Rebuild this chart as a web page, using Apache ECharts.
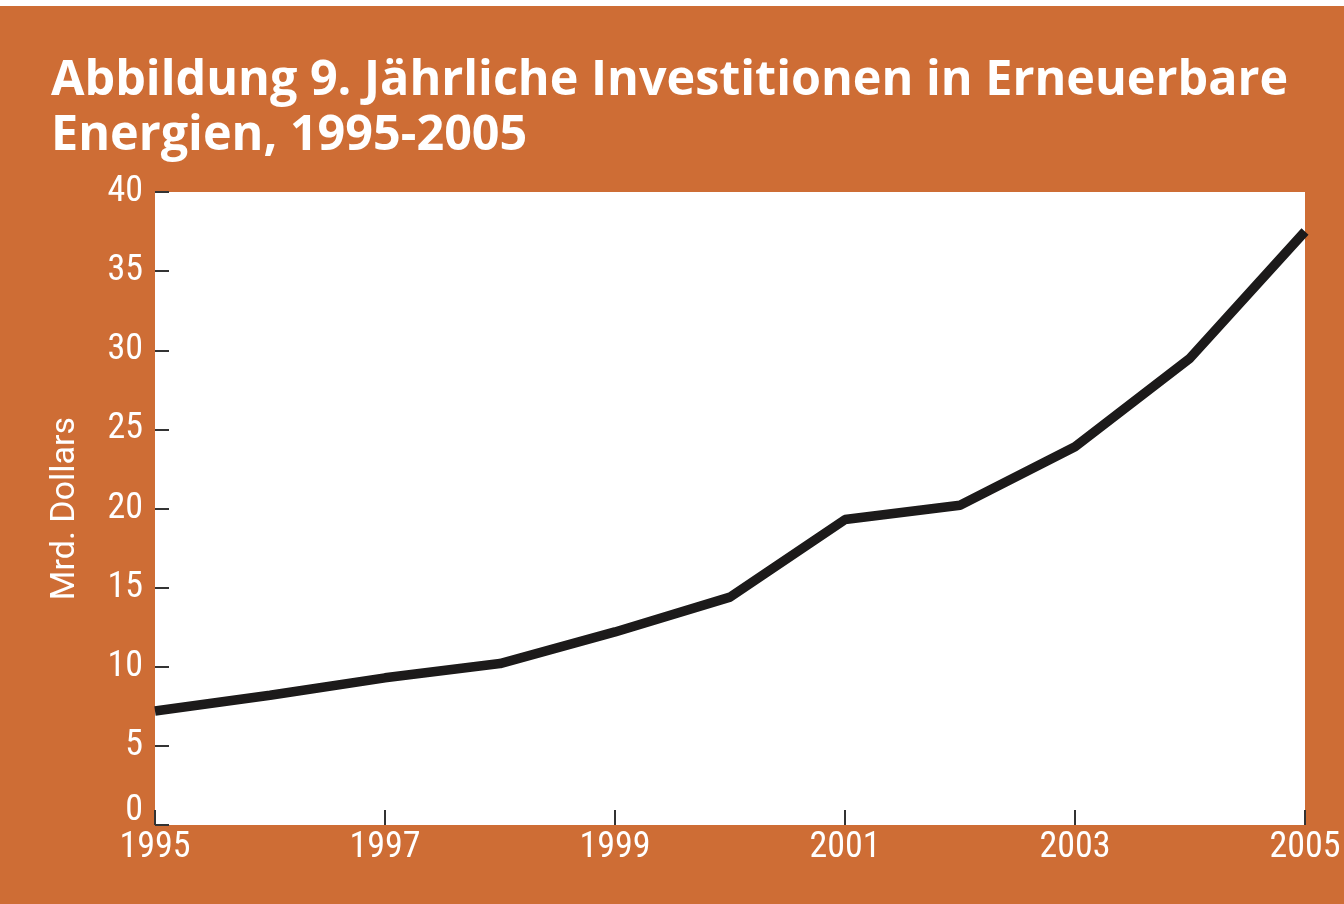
<!DOCTYPE html>
<html>
<head>
<meta charset="utf-8">
<script src="https://cdn.jsdelivr.net/npm/echarts@6/dist/echarts.min.js"></script>
<style>
  html, body { margin: 0; padding: 0; background: #fff; }
  #main { width: 1344px; height: 904px; }
</style>
</head>
<body>
<div id="main"></div>
<script>
// Jahre und Investitionen (Mrd. Dollars)
var years = ['1995', '1996', '1997', '1998', '1999', '2000', '2001', '2002', '2003', '2004', '2005'];
var invest = [7.2, 8.2, 9.3, 10.2, 12.2, 14.4, 19.3, 20.2, 23.9, 29.5, 37.5];
var yTicks = [0, 5, 10, 15, 20, 25, 30, 35, 40];

var orange = '#CE6D35';
var narrow = 'Roboto, sans-serif';
// font-stretch goes in the weight slot of the canvas font string
var narrowWeight = 'condensed';

var chart = echarts.init(document.getElementById('main'));
chart.setOption({
  backgroundColor: orange,
  animation: false,
  title: {
    text: 'Abbildung 9. Jährliche Investitionen in Erneuerbare\nEnergien, 1995-2005',
    left: 46,
    top: 49,
    textStyle: {
      color: '#fff',
      fontFamily: "'Open Sans', sans-serif",
      fontWeight: 'bold',
      fontSize: 48.5,
      lineHeight: 55
    }
  },
  graphic: [
    { type: 'rect', shape: { x: 0, y: 0, width: 1344, height: 6 }, style: { fill: '#fff' } }
  ],
  grid: {
    left: 155, right: 39, top: 192, bottom: 79,
    show: true, backgroundColor: '#fff', borderWidth: 0
  },
  xAxis: {
    type: 'category',
    data: years,
    boundaryGap: false,
    axisLine: { show: false },
    axisTick: { inside: true, length: 15, interval: 1, lineStyle: { color: '#333', width: 2 } },
    axisLabel: {
      interval: 1, margin: 5, color: '#fff',
      fontFamily: narrow, fontWeight: narrowWeight, fontSize: 36
    }
  },
  yAxis: {
    type: 'value',
    min: yTicks[0], max: yTicks[yTicks.length - 1], interval: 5,
    name: 'Mrd. Dollars',
    nameLocation: 'middle',
    nameGap: 73,
    nameTextStyle: { color: '#fff', fontFamily: narrow, fontSize: 34 },
    splitLine: { show: false },
    axisLine: { show: false },
    axisTick: { show: true, inside: true, length: 14, lineStyle: { color: '#333', width: 2 } },
    axisLabel: {
      margin: 12, color: '#fff', fontFamily: narrow, fontWeight: narrowWeight, fontSize: 36,
      formatter: function (v) { return v === 0 ? '{z|0}' : String(v); },
      rich: { z: { color: '#fff', fontFamily: narrow, fontWeight: narrowWeight, fontSize: 36, padding: [0, 0, 28, 0] } }
    }
  },
  series: [{
    type: 'line',
    data: invest,
    showSymbol: false,
    lineStyle: { color: '#1c1a1a', width: 9.5, cap: 'butt' }
  }]
});
</script>
</body>
</html>
